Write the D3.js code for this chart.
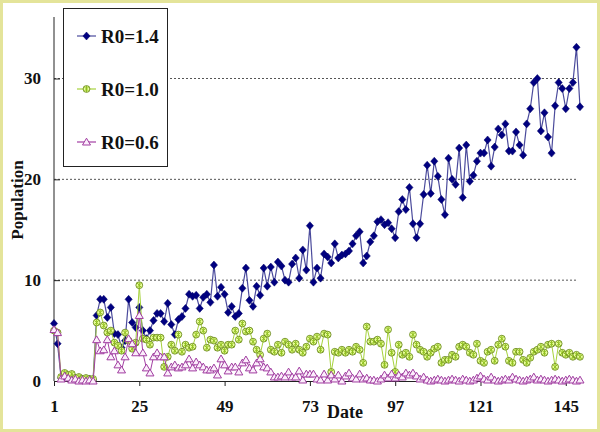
<!DOCTYPE html>
<html><head><meta charset="utf-8">
<script src="https://cdn.jsdelivr.net/npm/d3@7"></script>
<style>html,body{margin:0;padding:0;background:#fff;}svg{display:block;}</style>
</head><body>
<svg id="chart" width="600" height="432"></svg>
<script>
const days = d3.range(1, 150);
const xTickValues = [1, 25, 49, 73, 97, 121, 145];
const yTickValues = [0, 10, 20, 30];
const seriesNames = ["R0=1.4", "R0=1.0", "R0=0.6"];

const r14 = [5.7,3.7,0.3,0.5,0.4,0.2,0.3,0.1,0.2,0.1,0.2,0.1,
6.5,8.1,8.1,6.3,7.3,4.7,4.6,3.3,4.0,8.1,5.8,5.3,7.3,5.0,4.2,5.0,6.0,6.7,
6.7,5.9,7.7,5.6,4.6,6.1,6.4,7.2,8.6,8.4,8.5,7.2,8.3,8.6,7.8,11.5,8.4,9.3,8.6,6.8,
7.4,6.4,6.7,9.2,11.2,8.0,7.4,9.4,8.5,11.2,9.4,11.3,9.8,11.8,11.4,10.0,9.8,11.6,12.2,10.2,
13.0,11.0,15.4,9.8,11.2,10.2,12.6,12.3,11.7,13.6,12.2,12.5,12.6,12.9,13.6,14.4,14.8,11.7,12.4,13.8,
14.4,15.8,16.0,15.5,15.7,15.1,14.2,16.8,18.0,17.0,19.2,15.6,14.2,15.6,18.5,21.4,18.6,21.8,20.3,18.0,
16.5,22.1,20.0,19.5,23.1,18.2,23.4,19.8,20.4,21.8,22.6,22.6,23.9,21.3,23.2,25.0,24.4,25.5,22.8,22.8,
24.7,23.4,22.4,25.5,27.0,29.6,30.0,24.8,26.6,24.2,22.6,27.3,29.6,29.0,27.0,29.0,29.6,33.1,27.2];

const r10 = [5.0,4.8,0.4,0.8,0.6,0.7,0.3,0.4,0.2,0.3,0.2,0.2,
5.8,6.8,5.5,4.8,5.0,3.8,3.5,3.0,4.8,4.0,3.2,3.8,9.5,
4.2,4.1,3.6,4.3,4.3,4.3,1.4,2.4,3.6,3.0,4.6,2.9,3.6,3.3,3.4,4.6,5.9,5.0,3.3,4.1,4.0,3.3,3.6,3.0,3.6,
3.6,5.0,4.1,5.7,4.9,5.0,3.9,3.1,2.6,4.2,4.7,3.1,2.9,3.6,2.8,3.9,3.6,3.1,3.7,3.1,
2.8,3.4,4.2,3.9,4.4,3.1,4.7,4.6,0.9,2.9,2.8,3.1,2.8,3.1,2.9,3.4,3.1,1.8,5.4,3.9,
3.9,4.1,3.7,1.6,5.1,2.8,0.9,3.6,2.6,2.8,2.4,
4.6,3.6,3.1,2.9,2.4,2.8,3.2,3.4,1.8,2.1,2.1,2.6,2.4,3.4,3.6,3.4,2.8,2.6,3.7,2.0,
1.8,2.9,3.1,2.0,3.6,4.2,3.4,2.0,1.8,2.9,2.9,2.1,1.8,2.3,2.9,3.1,3.4,2.8,3.6,3.7,
1.4,3.7,2.8,2.6,2.8,2.4,2.6,2.4];

const r06 = [5.1,4.8,0.2,0.5,0.3,0.1,0.2,0.0,0.1,0.0,0.1,0.0,
4.1,3.0,3.1,4.1,2.4,3.0,1.6,1.1,2.4,4.2,3.7,2.8,6.5,2.8,1.3,0.8,2.4,2.8,
2.4,2.4,0.8,1.4,1.6,1.3,1.4,1.6,2.2,1.3,1.9,1.6,1.4,1.1,1.1,1.3,0.6,2.2,1.6,1.0,
1.4,1.4,0.9,1.8,2.1,1.3,1.1,1.8,2.2,1.4,1.3,0.9,0.4,0.4,0.5,0.4,0.9,0.4,0.4,1.0,
0.1,0.7,0.7,0.7,0.2,0.1,0.7,0.1,0.6,0.2,0.6,0.0,0.5,0.8,0.3,0.2,0.7,0.2,0.3,0.1,
0.1,0.0,0.2,0.6,0.3,0.7,0.3,0.6,0.4,0.8,0.6,
0.8,0.5,0.2,0.4,0.1,0.0,0.1,0.2,0.1,0.0,0.1,0.2,0.1,0.0,0.2,0.1,
0.0,0.1,0.3,0.5,0.2,0.1,0.4,0.1,0.0,0.1,0.2,0.1,0.4,0.2,0.1,0.0,
0.1,0.2,0.4,0.1,0.2,0.1,0.0,0.1,0.2,0.1,0.0,0.1,0.2,0.1,0.0,0.1];

const svg = d3.select("#chart");
const W = 600, H = 432;
svg.append("rect").attr("x",1.5).attr("y",1.5).attr("width",W-3).attr("height",H-3)
  .attr("fill","#ffffff").attr("stroke","#e4e49a").attr("stroke-width",3);

const x = d3.scaleLinear().domain([1, 149]).range([54, 580]);
const y = d3.scaleLinear().domain([0, 36.1]).range([381, 17]);
const font = "'Liberation Serif','Times New Roman',serif";

// gridlines
svg.append("g").selectAll("line").data(yTickValues.filter(v => v > 0)).join("line")
  .attr("x1", 54).attr("x2", 577).attr("y1", d => y(d)).attr("y2", d => y(d))
  .attr("stroke", "#555").attr("stroke-width", 1).attr("stroke-dasharray", "2,2");

// axes
const yAxis = d3.axisLeft(y).tickValues(yTickValues).tickSizeInner(-6).tickSizeOuter(0).tickPadding(13).tickFormat(d3.format("d"));
const gy = svg.append("g").attr("transform","translate(54,0)").call(yAxis);
gy.select(".domain").attr("d", `M0,${y(36.1)}V${y(0)}`).attr("stroke","#222");
gy.selectAll(".tick line").attr("stroke","#222");
gy.selectAll("text").attr("font-family",font).attr("font-weight","bold").attr("font-size",17).attr("fill","#111");

const xAxis = d3.axisBottom(x).tickValues(xTickValues).tickSizeInner(5).tickSizeOuter(0).tickPadding(14).tickFormat(d3.format("d"));
const gx = svg.append("g").attr("transform","translate(0,381)").call(xAxis);
gx.select(".domain").attr("stroke","#222");
gx.selectAll(".tick line").attr("stroke","#222");
gx.selectAll("text").attr("font-family",font).attr("font-weight","bold").attr("font-size",17).attr("fill","#111");

svg.append("text").attr("x",345).attr("y",418).attr("text-anchor","middle")
  .attr("font-family",font).attr("font-weight","bold").attr("font-size",18).attr("fill","#111").text("Date");
svg.append("text").attr("transform","translate(23,200) rotate(-90)").attr("text-anchor","middle")
  .attr("font-family",font).attr("font-weight","bold").attr("font-size",17).attr("fill","#111").text("Population");

const line = d3.line().x((d,i) => x(days[i])).y(d => y(d));

// marker drawers
const diamond = "M0,-4L3.6,0L0,4L-3.6,0Z";
const tri = "M0,-3.8L4,3L-4,3Z";
function drawDiamond(g, cx, cy){ g.append("path").attr("d",diamond).attr("transform",`translate(${cx},${cy})`).attr("fill","#000080").attr("stroke","#000066").attr("stroke-width",0.5); }
function drawStar(g, cx, cy){
  const m = g.append("g").attr("transform",`translate(${cx},${cy})`);
  m.append("circle").attr("r",3.4).attr("fill","#eaff9c").attr("stroke","#5c7a12").attr("stroke-width",0.8);
  m.append("path").attr("d","M-2.4,-2.4L2.4,2.4M-2.4,2.4L2.4,-2.4M0,-3L0,3").attr("stroke","#8fbf1f").attr("stroke-width",1);
}
function drawTri(g, cx, cy){ g.append("path").attr("d",tri).attr("transform",`translate(${cx},${cy})`).attr("fill","#fbeefb").attr("stroke","#a03ca0").attr("stroke-width",1); }

const series = [
  {name: seriesNames[0], data: r14, line: "#4b4b9c", lw: 1.2, draw: drawDiamond},
  {name: seriesNames[1], data: r10, line: "#a6d23c", lw: 1, draw: drawStar},
  {name: seriesNames[2], data: r06, line: "#a33fa3", lw: 1, draw: drawTri}
];

series.forEach(s => {
  const g = svg.append("g");
  g.append("path").attr("d", line(s.data)).attr("fill","none").attr("stroke",s.line).attr("stroke-width",s.lw);
  s.data.forEach((v,i) => s.draw(g, x(days[i]), y(v)));
});

// legend
const lg = svg.append("g");
lg.append("rect").attr("x",63.5).attr("y",8.5).attr("width",104).attr("height",158).attr("fill","#fff").attr("stroke","#222").attr("stroke-width",1);
const legY = [36, 89, 142];
series.forEach((s,i) => {
  lg.append("line").attr("x1",77).attr("x2",96).attr("y1",legY[i]).attr("y2",legY[i]).attr("stroke",s.line).attr("stroke-width",1.2);
  s.draw(lg, 86.5, legY[i]);
  lg.append("text").attr("x",101).attr("y",legY[i]+6.5).attr("font-family",font).attr("font-weight","bold").attr("font-size",19).attr("fill","#111").text(s.name);
});
</script>
</body></html>
